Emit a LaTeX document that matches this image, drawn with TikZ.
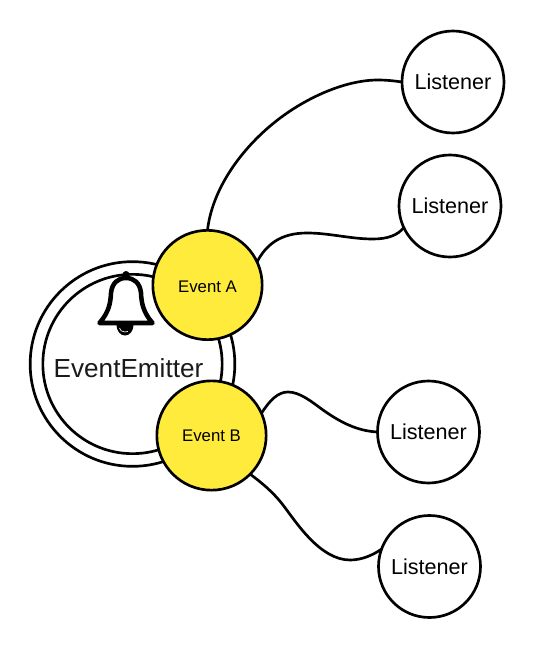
\documentclass[tikz,border=0pt]{standalone}
\usepackage{fontspec}
\setmainfont{Liberation Sans}
\definecolor{eventyellow}{HTML}{FFEB3B}
\definecolor{inktext}{HTML}{1A1A1A}
\tikzset{
  ring/.style={draw=black,circle,line width=2pt,inner sep=0pt,outer sep=0pt,fill=white},
  emitter/.style={ring,minimum size=153.5pt},
  emitterinner/.style={ring,minimum size=134.5pt},
  eventnode/.style={ring,fill=eventyellow,minimum size=82pt,font=\fontsize{12.6}{14}\selectfont},
  listenernode/.style={ring,minimum size=76.5pt,font=\fontsize{16.2}{18}\selectfont},
  wire/.style={draw=black,line width=2pt},
}
\begin{document}
\begin{tikzpicture}[x=0.75pt,y=0.75pt,yscale=-1,xscale=1]
\useasboundingbox (0,0) rectangle (532,649);

% emitter rings
\node [emitter] (outer) at (132.5,364) {};
\node [emitterinner] (inner) at (132.5,364) {};
\node [inner sep=0pt,text=inktext,font=\fontsize{19.6}{22}\selectfont] (emitterlabel) at (128.5,368) {EventEmitter};

% bell
\fill (116.5,325) arc (180:0:8.5 and 10.5) -- cycle;
\draw [white,line width=0.5pt] (119.5,328) arc (180:60:5.5 and 4);
\draw [line width=3.4pt,line join=round,line cap=round,fill=white] (99.5,323) -- (152.5,323) .. controls (143,312) and (141.5,303) .. (141,293) .. controls (140,283) and (134,278) .. (126,278) .. controls (118,278) and (112,283) .. (111,293) .. controls (110.5,303) and (109,312) .. (99.5,323) -- cycle;
\fill (126,274.5) circle (3.5);

% listeners
\node [listenernode] (listenerA) at (453,82) {Listener};
\node [listenernode] (listenerB) at (450,206) {Listener};
\node [listenernode] (listenerC) at (428.5,432) {Listener};
\node [listenernode] (listenerD) at (429.5,566.5) {Listener};

% events
\node [eventnode,text height=12pt] (eventA) at (207.5,285) {Event A};
\node [eventnode] (eventB) at (211.5,435.5) {Event B};

% connectors
\draw [wire] (eventA.north) .. controls (212,190) and (240,150) .. (275,122) .. controls (305,98) and (345,80) .. (378,80) .. controls (387,80) and (395,81) .. (listenerA.west);
\draw [wire] (eventA.25) .. controls (266,245) and (280,233) .. (307,233) .. controls (330,233) and (350,239) .. (373,239) .. controls (388,239) and (398,235) .. (listenerB.205);
\draw [wire] (eventB.24) .. controls (270,400) and (278,392) .. (288,392) .. controls (300,392) and (312,402) .. (323,410) .. controls (340,422) and (357,431) .. (listenerC.west);
\draw [wire] (eventB.-45) .. controls (262,483) and (273,492) .. (283,505) .. controls (296,522) and (320,560) .. (350,560) .. controls (362,560) and (373,555) .. (listenerD.160);
\end{tikzpicture}
\end{document}
